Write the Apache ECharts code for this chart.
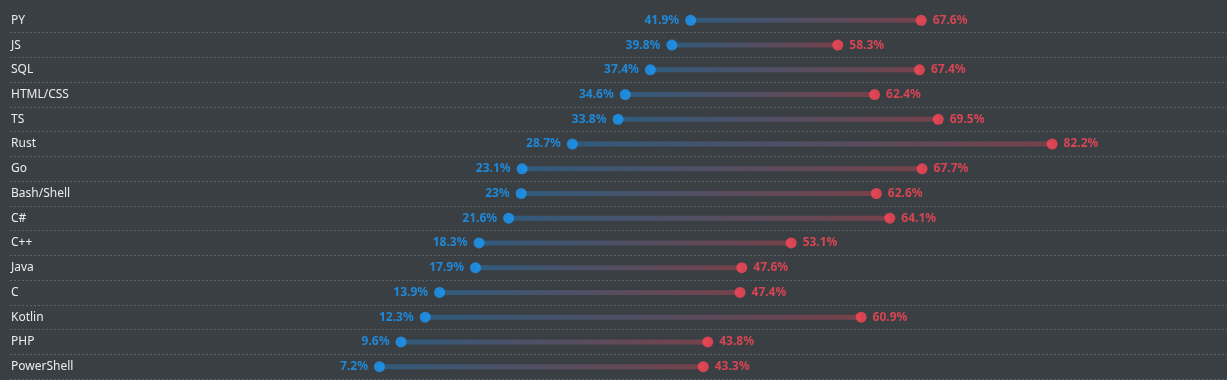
<!DOCTYPE html>
<html><head><meta charset="utf-8">
<script src="https://cdn.jsdelivr.net/npm/echarts@6/dist/echarts.min.js"></script>
<style>html,body{margin:0;padding:0;background:#3a3f44;}#c{width:1227px;height:380px;}</style>
</head><body><div id="c"></div>
<script>
const categories = ['PY','JS','SQL','HTML/CSS','TS','Rust','Go','Bash/Shell','C#','C++','Java','C','Kotlin','PHP','PowerShell'];
const lowValues = [41.9,39.8,37.4,34.6,33.8,28.7,23.1,23,21.6,18.3,17.9,13.9,12.3,9.6,7.2];
const highValues = [67.6,58.3,67.4,62.4,69.5,82.2,67.7,62.6,64.1,53.1,47.6,47.4,60.9,43.8,43.3];

const blue = '#1a9bfc', red = '#ff4757';
const chart = echarts.init(document.getElementById('c'));
chart.setOption({
  backgroundColor: '#3a3f44',
  animation: false,
  grid: {left: 10, right: 0, top: 8, bottom: 1},
  xAxis: {type: 'value', min: -34, max: 101.7, show: false},
  yAxis: {
    type: 'category', data: categories, inverse: true,
    axisLine: {show: false}, axisTick: {show: false},
    axisLabel: {inside: true, margin: 1, color: '#ececec', fontSize: 12, fontFamily: 'Noto Sans', verticalAlign: 'middle'},
    splitLine: {show: true, showMinLine: false, lineStyle: {type: [2, 2], color: '#5f646a', width: 1}}
  },
  series: [
    {type: 'bar', stack: 's', data: lowValues, itemStyle: {color: 'transparent'}, barWidth: 5, silent: true},
    {type: 'bar', stack: 's', data: highValues.map((h, i) => +(h - lowValues[i]).toFixed(1)), barWidth: 5,
     itemStyle: {color: new echarts.graphic.LinearGradient(0, 0, 1, 0, [
       {offset: 0, color: 'rgba(26,155,252,0.3)'}, {offset: 1, color: 'rgba(255,71,87,0.3)'}])}},
    {type: 'scatter', data: lowValues, symbolSize: 11, itemStyle: {color: blue}, z: 5,
     label: {show: true, position: 'left', distance: 6, color: blue, fontWeight: 'bold', fontSize: 12, fontFamily: 'Noto Sans', formatter: p => p.value + '%'}},
    {type: 'scatter', data: highValues, symbolSize: 11, itemStyle: {color: red}, z: 5,
     label: {show: true, position: 'right', distance: 6, color: red, fontWeight: 'bold', fontSize: 12, fontFamily: 'Noto Sans', formatter: p => p.value + '%'}}
  ]
});
</script></body></html>
